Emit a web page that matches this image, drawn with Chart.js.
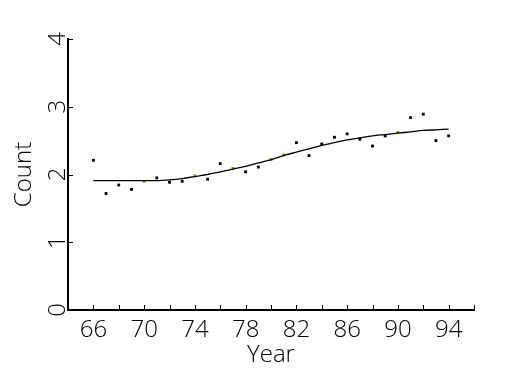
<!DOCTYPE html>
<html>
<head>
<meta charset="utf-8">
<script src="https://cdn.jsdelivr.net/npm/chart.js@4"></script>
<style>
  html, body { margin: 0; padding: 0; background: #fff; }
  #wrap { width: 525px; height: 375px; }
</style>
</head>
<body>
<div id="wrap"><canvas id="chart"></canvas></div>
<script>
  // Year (19xx) and counts
  const years = [66, 67, 68, 69, 70, 71, 72, 73, 74, 75, 76, 77, 78, 79, 80,
                 81, 82, 83, 84, 85, 86, 87, 88, 89, 90, 91, 92, 93, 94];
  const counts = [2.21, 1.72, 1.845, 1.78, 1.90, 1.95, 1.885, 1.90, 1.98, 1.93,
                  2.16, 2.09, 2.04, 2.11, 2.22, 2.29, 2.47, 2.28, 2.45, 2.55,
                  2.60, 2.52, 2.42, 2.57, 2.62, 2.84, 2.89, 2.50, 2.57];
  // smoothed fit
  const fitted = [1.91, 1.91, 1.91, 1.91, 1.91, 1.91, 1.92, 1.94, 1.97, 2.00,
                  2.04, 2.08, 2.12, 2.17, 2.22, 2.28, 2.33, 2.38, 2.43, 2.47,
                  2.51, 2.54, 2.57, 2.59, 2.61, 2.63, 2.65, 2.66, 2.67];
  const xLabelYears = [66, 70, 74, 78, 82, 86, 90, 94];
  const yTicks = [0, 1, 2, 3, 4];

  const FONT = "'Open Sans', 'DejaVu Sans', sans-serif";

  // tick marks pointing into the plot
  const innerTicks = {
    id: "innerTicks",
    afterDraw(chart) {
      const ctx = chart.ctx;
      const x = chart.scales.x;
      const y = chart.scales.y;
      ctx.save();
      ctx.strokeStyle = "#000";
      ctx.lineWidth = 1;
      ctx.beginPath();
      x.ticks.forEach((t) => {
        if (t.value <= x.min) return;
        const px = Math.round(x.getPixelForValue(t.value)) + 0.5;
        ctx.moveTo(px, x.top);
        ctx.lineTo(px, x.top - 5);
      });
      y.ticks.forEach((t) => {
        const py = Math.round(y.getPixelForValue(t.value)) + 0.5;
        ctx.moveTo(y.right, py);
        ctx.lineTo(y.right + 5, py);
      });
      ctx.stroke();
      ctx.restore();
    },
  };

  new Chart(document.getElementById("chart"), {
    type: "scatter",
    data: {
      datasets: [
        {
          label: "Count",
          data: years.map((yr, i) => ({ x: yr, y: counts[i] })),
          pointStyle: "rect",
          pointRadius: 2,
          borderWidth: 0,
          backgroundColor: (c) => {
            const i = c.dataIndex;
            if (i == null) return "#000";
            // points sitting on the fitted curve show up olive in the original
            return Math.abs(counts[i] - fitted[i]) < 0.015 ? "#8a8a00" : "#000";
          },
          order: 2,
        },
        {
          label: "Fit",
          data: years.map((yr, i) => ({ x: yr, y: fitted[i] })),
          showLine: true,
          borderColor: "#000",
          borderWidth: 1.3,
          pointRadius: 0,
          cubicInterpolationMode: "monotone",
          fill: false,
          order: 1,
        },
      ],
    },
    options: {
      responsive: true,
      maintainAspectRatio: false,
      animation: false,
      layout: { padding: { top: 39, right: 51, left: 0, bottom: 0 } },
      plugins: {
        legend: { display: false },
        tooltip: { enabled: false },
      },
      scales: {
        x: {
          type: "linear",
          min: 64,
          max: 96,
          afterFit: (s) => { s.height = 65; },
          afterBuildTicks: (s) => {
            const t = [];
            for (let v = 64; v <= 96; v += 2) t.push({ value: v });
            s.ticks = t;
          },
          ticks: {
            autoSkip: false,
            maxRotation: 0,
            padding: -2,
            color: "#000",
            font: { family: FONT, size: 24, weight: 300 },
            callback: (v) => (xLabelYears.includes(v) ? String(v) : ""),
          },
          grid: { display: false },
          border: { display: true, color: "#000", width: 2 },
          title: {
            display: true,
            text: "Year",
            color: "#000",
            font: { family: FONT, size: 24, weight: 300 },
            padding: { top: 0, bottom: 5 },
          },
        },
        y: {
          min: 0,
          max: 4,
          afterFit: (s) => { s.width = 68; },
          afterBuildTicks: (s) => { s.ticks = yTicks.map((v) => ({ value: v })); },
          ticks: {
            minRotation: 90,
            maxRotation: 90,
            crossAlign: "center",
            padding: -5,
            color: "#000",
            font: { family: FONT, size: 24, weight: 300 },
          },
          grid: { display: false },
          border: { display: true, color: "#000", width: 2 },
          title: {
            display: true,
            text: "Count",
            color: "#000",
            font: { family: FONT, size: 24, weight: 300 },
            padding: { top: 10, bottom: 0 },
          },
        },
      },
    },
    plugins: [innerTicks],
  });
</script>
</body>
</html>
